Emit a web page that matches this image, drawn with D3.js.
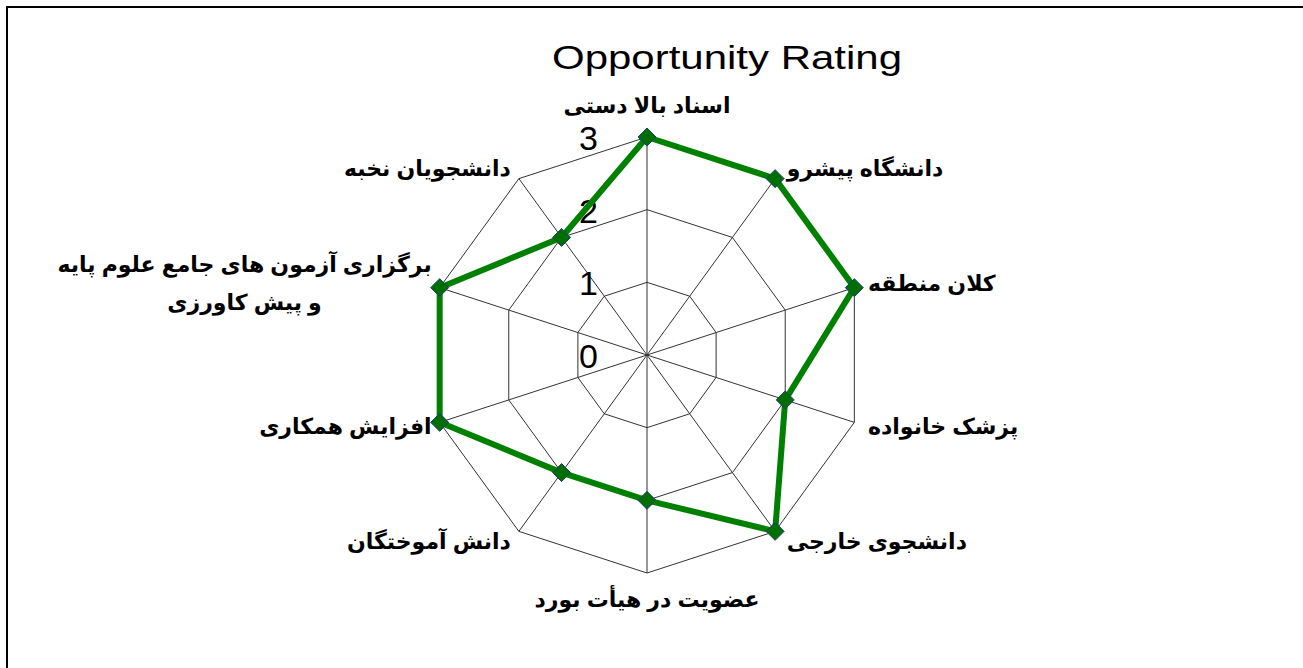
<!DOCTYPE html>
<html>
<head>
<meta charset="utf-8">
<script src="https://cdn.jsdelivr.net/npm/d3@7"></script>
<style>
  body { margin: 0; background: #fff; }
  svg { display: block; }
</style>
</head>
<body>
<div id="chart"></div>
<script>
// axes, clockwise from the top
const categories = [
  "اسناد بالا دستی",
  "دانشگاه پیشرو",
  "کلان منطقه",
  "پزشک خانواده",
  "دانشجوی خارجی",
  "عضویت در هیأت بورد",
  "دانش آموختگان",
  "افزایش همکاری",
  "برگزاری آزمون های جامع علوم پایه|و پیش کاورزی",
  "دانشجویان نخبه"
]
const ratings = [3, 3, 3, 2, 3, 2, 2, 3, 3, 2]
const tickValues = [0, 1, 2, 3]
const title = "Opportunity Rating"

const width = 1303
const height = 668
const cx = 647, cy = 355
const radius = 218

const svg = d3.select("#chart").append("svg")
  .attr("width", width)
  .attr("height", height)

// outer frame (only top and left visible in the picture)
svg.append("path")
  .attr("d", "M7,668 L7,7 L1303,7")
  .attr("fill", "none")
  .attr("stroke", "#000")
  .attr("stroke-width", 2)

svg.append("text")
  .attr("x", 727)
  .attr("y", 57)
  .attr("text-anchor", "middle")
  .attr("dominant-baseline", "central")
  .attr("font-family", "Liberation Sans, Arial, sans-serif")
  .attr("font-size", 33)
  .attr("textLength", 350)
  .attr("lengthAdjust", "spacingAndGlyphs")
  .text(title)

const r = d3.scaleLinear().domain([0, d3.max(tickValues)]).range([0, radius])
const angle = d3.scaleLinear().domain([0, categories.length]).range([0, 2 * Math.PI])

function pt(i, v) {
  const a = angle(i)
  return [cx + r(v) * Math.sin(a), cy - r(v) * Math.cos(a)]
}

const g = svg.append("g")

// web rings
tickValues.filter(d => d > 0).forEach(function(t) {
  g.append("path")
    .attr("d", d3.line()(categories.map((c, i) => pt(i, t))) + "Z")
    .attr("fill", "none")
    .attr("stroke", "#333")
    .attr("stroke-width", 1)
})

// spokes
g.selectAll("line.spoke")
  .data(categories)
  .enter()
  .append("line")
  .attr("class", "spoke")
  .attr("x1", cx).attr("y1", cy)
  .attr("x2", (d, i) => pt(i, 3)[0])
  .attr("y2", (d, i) => pt(i, 3)[1])
  .attr("stroke", "#333")
  .attr("stroke-width", 1)

// tick labels on the vertical axis
g.selectAll("text.tick")
  .data(tickValues)
  .enter()
  .append("text")
  .attr("class", "tick")
  .attr("x", cx - 49)
  .attr("y", d => cy - r(d) + 1)
  .attr("text-anchor", "end")
  .attr("dominant-baseline", "central")
  .attr("font-family", "Liberation Sans, Arial, sans-serif")
  .attr("font-size", 34)
  .text(d => d)

// series line
g.append("path")
  .attr("d", d3.line()(ratings.map((v, i) => pt(i, v))) + "Z")
  .attr("fill", "none")
  .attr("stroke", "#008000")
  .attr("stroke-width", 6)
  .attr("stroke-linejoin", "miter")

// diamond markers
g.selectAll("path.marker")
  .data(ratings)
  .enter()
  .append("path")
  .attr("class", "marker")
  .attr("transform", (d, i) => "translate(" + pt(i, d) + ")")
  .attr("d", "M0,-9 L9,0 L0,9 L-9,0Z")
  .attr("fill", "#006e00")
  .attr("stroke", "#1f3a80")
  .attr("stroke-width", 1)

// category labels
g.selectAll("text.cat")
  .data(categories)
  .enter()
  .append("text")
  .attr("class", "cat")
  .attr("font-family", "Arial, DejaVu Sans, sans-serif")
  .attr("font-weight", "bold")
  .attr("font-size", 22)
  .attr("direction", "rtl")
  .attr("dominant-baseline", "central")
  .each(function(d, i) {
    const p = pt(i, 3)
    const s = Math.sin(angle(i)), c = Math.cos(angle(i))
    const el = d3.select(this)
    let x = p[0], y = p[1], anchor
    if (Math.abs(s) < 0.01) {
      anchor = "middle"
      y = y - (c > 0 ? 32 : 26) * c
    } else if (s > 0) {
      anchor = "start"
      x = x + 8 + 6 * s
      y = y - c * 12
    } else {
      anchor = "end"
      x = x - 8
      y = y - c * 12
    }
    const lines = d.split("|")
    if (lines.length > 1) {
      // two line block, centred lines, right edge at the anchor
      el.attr("text-anchor", "middle")
      el.selectAll("tspan")
        .data(lines)
        .enter()
        .append("tspan")
        .attr("x", x)
        .attr("y", (l, k) => y - 20 + k * 38)
        .text(l => l)
      const w = this.getBBox().width
      el.selectAll("tspan").attr("x", x - w / 2)
    } else {
      // svg "start"/"end" flip with rtl direction
      const flip = {start: "end", end: "start", middle: "middle"}
      el.attr("x", x).attr("y", y)
        .attr("text-anchor", flip[anchor])
        .text(d)
    }
  })
</script>
</body>
</html>
